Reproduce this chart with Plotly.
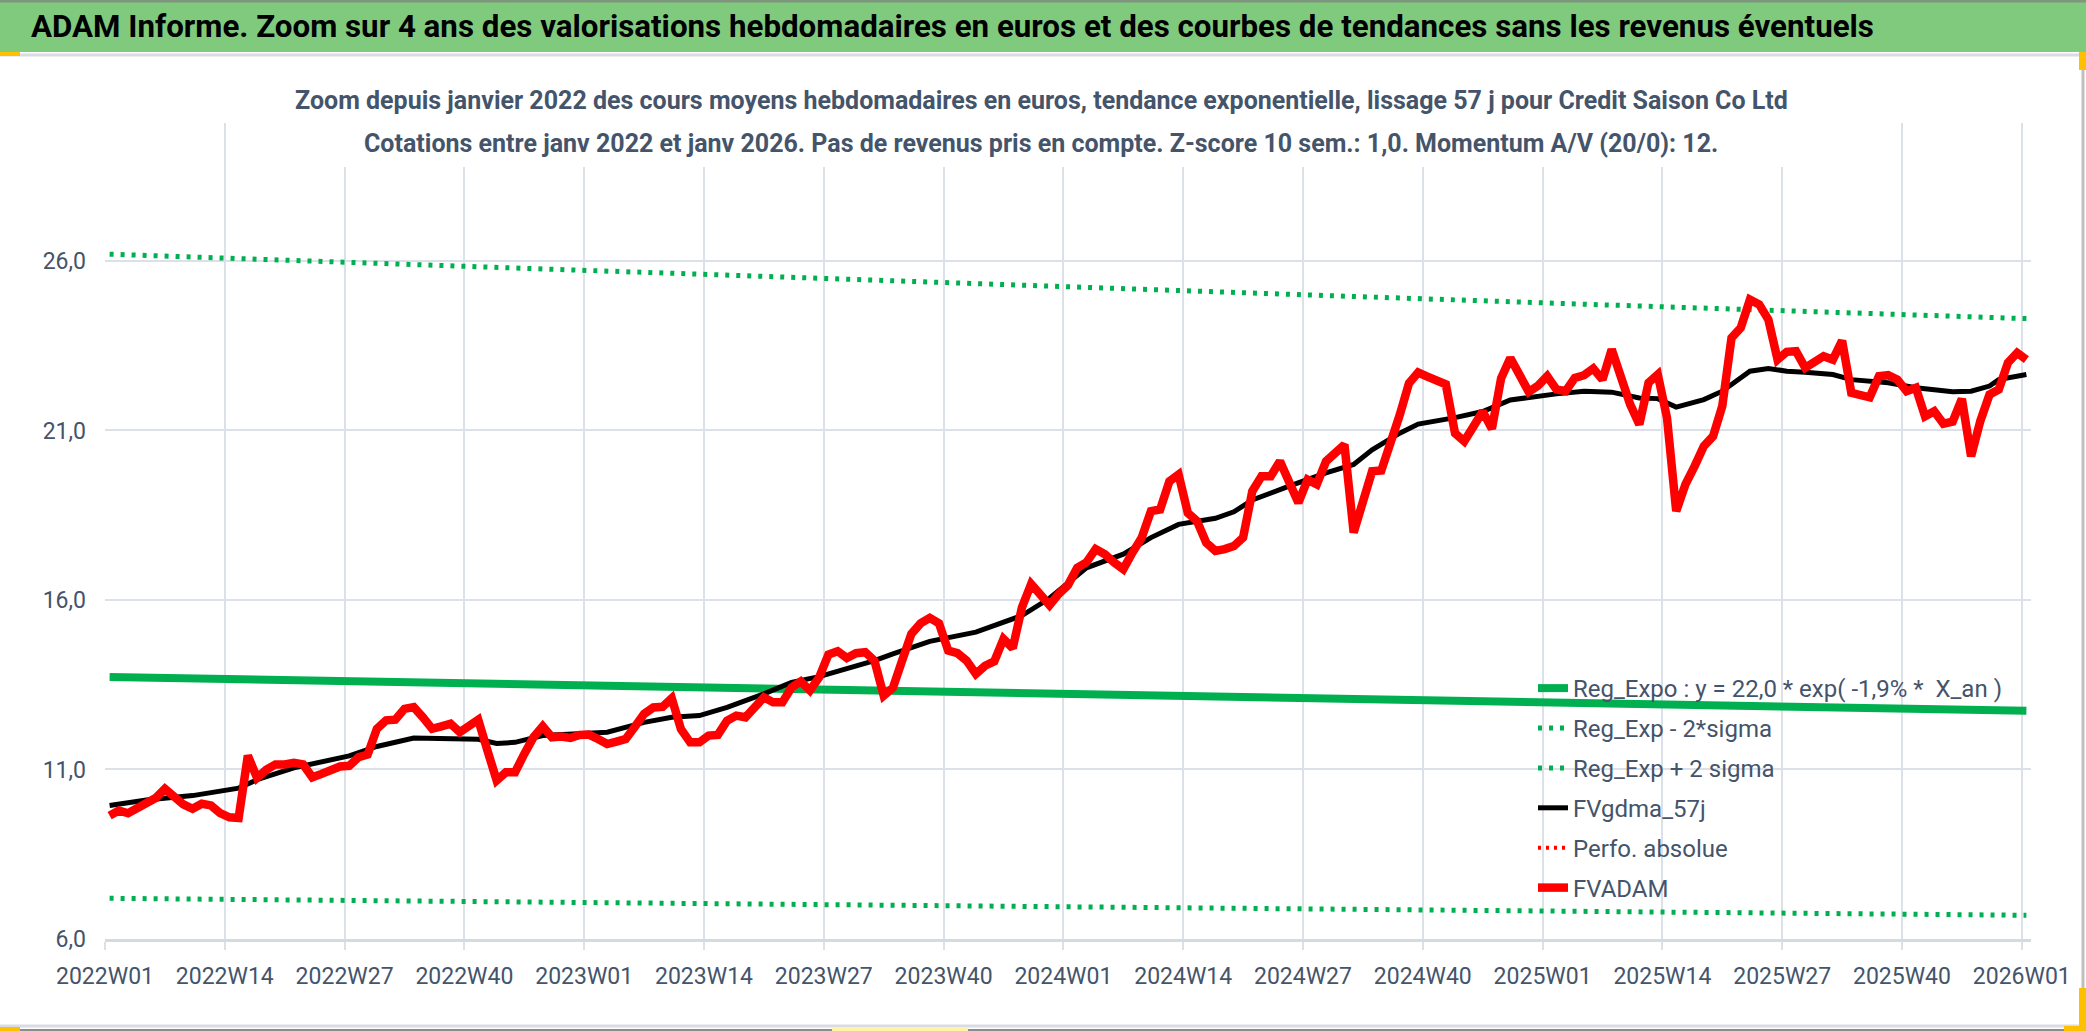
import plotly.graph_objects as go

# ---------------- data ----------------
years = [2022, 2023, 2024, 2025]
weeks = [f"{y}W{w:02d}" for y in years for w in range(1, 53)] + ["2026W01"]
tick_idx = list(range(0, 209, 13))
tick_labels = [weeks[i] for i in tick_idx]

# FVADAM weekly values
red_2022 = [9.64, 9.79, 9.71, 9.87, 9.96, 10.16, 10.43, 10.20, 9.97, 9.84, 9.99, 9.94, 9.71,
            9.59, 9.57, 11.41, 10.75, 10.99, 11.15, 11.15, 11.20, 11.15, 10.77, 10.87, 10.99, 11.09,
            11.11, 11.36, 11.44, 12.20, 12.45, 12.47, 12.79, 12.84, 12.54, 12.20, 12.27, 12.35, 12.10,
            12.25, 12.47, 11.56, 10.68, 10.92, 10.92, 11.46, 11.95, 12.27, 11.95, 11.97, 11.93, 12.02]
red_2023 = [12.03, 11.90, 11.75, 11.82, 11.90, 12.26, 12.64, 12.83, 12.85, 13.10, 12.19, 11.80, 11.80,
            12.00, 12.02, 12.44, 12.59, 12.54, 12.88, 13.13, 12.98, 12.98, 13.42, 13.60, 13.33, 13.72,
            14.39, 14.49, 14.29, 14.43, 14.46, 14.21, 13.18, 13.41, 14.21, 15.00, 15.31, 15.47, 15.31,
            14.51, 14.43, 14.21, 13.82, 14.06, 14.19, 14.85, 14.58, 15.78, 16.47, 16.13, 15.85, 16.18]
red_2024 = [16.44, 16.95, 17.11, 17.50, 17.35, 17.11, 16.91, 17.40, 17.84, 18.62, 18.67, 19.50, 19.70,
            18.57, 18.33, 17.69, 17.45, 17.50, 17.59, 17.84, 19.21, 19.65, 19.65, 20.09, 19.45, 18.87,
            19.55, 19.41, 20.09, 20.38, 20.58, 17.99, 18.92, 19.80, 19.82, 20.58, 21.46, 22.39, 22.71,
            22.59, 22.49, 22.36, 20.92, 20.68, 21.12, 21.56, 21.05, 22.54, 23.14, 22.68, 22.14, 22.32]
red_2025 = [22.60, 22.21, 22.16, 22.55, 22.63, 22.83, 22.50, 23.39, 22.60, 21.77, 21.18, 22.41, 22.65,
            21.37, 18.62, 19.41, 19.95, 20.54, 20.83, 21.72, 23.73, 24.03, 24.86, 24.72, 24.27, 23.09,
            23.32, 23.34, 22.85, 23.05, 23.19, 23.09, 23.65, 22.11, 22.04, 21.98, 22.60, 22.63, 22.50,
            22.16, 22.26, 21.42, 21.57, 21.20, 21.26, 21.93, 20.24, 21.28, 22.06, 22.21, 23.00, 23.29,
            23.09]

# FVgdma_57j (smooth line, read at these week indexes)
black_idx = [0, 4, 9, 14, 16, 20, 26, 29, 33, 38, 40, 42, 44, 47, 52, 54, 58, 61, 64, 67, 71, 74, 77,
             80, 83, 85, 89, 94, 96, 99, 102, 104, 106, 110, 113, 116, 118, 120, 122, 124, 128, 132,
             135, 137, 140, 142, 146, 149, 152, 154, 157, 160, 163, 166, 168, 170, 173, 175, 178, 180,
             182, 184, 187, 189, 193, 196, 200, 202, 204, 205, 208]
black_vals = [9.94, 10.10, 10.23, 10.45, 10.70, 11.05, 11.40, 11.68, 11.93, 11.92, 11.89, 11.77, 11.80,
              12.00, 12.08, 12.10, 12.39, 12.54, 12.59, 12.83, 13.23, 13.57, 13.74, 13.96, 14.21, 14.41,
              14.78, 15.05, 15.24, 15.54, 16.05, 16.50, 16.95, 17.35, 17.84, 18.23, 18.31, 18.41, 18.60,
              18.95, 19.36, 19.75, 20.00, 20.43, 20.92, 21.19, 21.38, 21.56, 21.90, 21.98, 22.08, 22.16,
              22.13, 21.96, 21.94, 21.69, 21.91, 22.16, 22.75, 22.83, 22.75, 22.72, 22.65, 22.50, 22.41,
              22.26, 22.14, 22.16, 22.31, 22.50, 22.65]

# Exponential regression and +/- 2 sigma bands (read at each year start)
trend_idx = [0, 52, 104, 156, 208]
reg_vals = [13.73, 13.47, 13.22, 12.97, 12.73]
upper_vals = [26.20, 25.71, 25.23, 24.76, 24.30]
lower_vals = [7.20, 7.07, 6.94, 6.82, 6.70]

y_ticks = [6, 11, 16, 21, 26]
y_tick_labels = ["6,0", "11,0", "16,0", "21,0", "26,0"]

header = ("ADAM Informe. Zoom sur 4 ans des valorisations hebdomadaires en euros et des courbes "
          "de tendances sans les revenus éventuels")
sub1 = ("Zoom depuis janvier 2022 des cours moyens hebdomadaires en euros, tendance exponentielle, "
        "lissage 57 j pour Credit Saison Co Ltd")
sub2 = ("Cotations entre janv 2022 et janv 2026. Pas de revenus pris en compte. Z-score 10 sem.: 1,0. "
        "Momentum A/V (20/0): 12.")

# ---------------- layout geometry ----------------
W, H = 2086, 1031
PL, PR, PT, PB = 105, 2031, 123, 939
FONT = "Roboto, Liberation Sans, sans-serif"
TXT = "#44546A"
GRID = "#DCE0E8"


def px2x(px):
    return (px - PL) / (PR - PL)


def px2y(py):
    return (PB - py) / (PB - PT)


red_vals = red_2022 + red_2023 + red_2024 + red_2025
xpos = [i + 0.5 for i in range(len(weeks))]

fig = go.Figure()
fig.add_trace(go.Scatter(x=[i + 0.5 for i in trend_idx], y=reg_vals, mode="lines",
                         name="Reg_Expo : y = 22,0 * exp( -1,9% *  X_an )", legendgroup="g1",
                         line=dict(color="#00B050", width=8)))
fig.add_trace(go.Scatter(x=[i + 0.5 for i in trend_idx], y=lower_vals, mode="lines",
                         name="Reg_Exp - 2*sigma", legendgroup="g2",
                         line=dict(color="#00B050", width=5, dash="4px,7px")))
fig.add_trace(go.Scatter(x=[i + 0.5 for i in trend_idx], y=upper_vals, mode="lines",
                         name="Reg_Exp + 2 sigma", legendgroup="g3",
                         line=dict(color="#00B050", width=5, dash="4px,7px")))
fig.add_trace(go.Scatter(x=[i + 0.5 for i in black_idx], y=black_vals, mode="lines",
                         name="FVgdma_57j", legendgroup="g4", line=dict(color="#000000", width=5)))
fig.add_trace(go.Scatter(x=[None], y=[None], mode="lines", name="Perfo. absolue", legendgroup="g5",
                         line=dict(color="#FF0000", width=4, dash="3px,5px")))
fig.add_trace(go.Scatter(x=xpos, y=red_vals, mode="lines", name="FVADAM", legendgroup="g6",
                         line=dict(color="#FF0000", width=8.5)))

shapes = [
    # header band
    dict(type="rect", xref="paper", yref="paper", x0=px2x(0), x1=px2x(W), y0=px2y(52), y1=px2y(0),
         fillcolor="rgb(128,202,126)", line=dict(width=0), layer="above"),
    dict(type="line", xref="paper", yref="paper", x0=px2x(0), x1=px2x(W), y0=px2y(1), y1=px2y(1),
         line=dict(color="#7E957E", width=3), layer="above"),
    # chart frame
    dict(type="line", xref="paper", yref="paper", x0=px2x(0), x1=px2x(W), y0=px2y(55), y1=px2y(55),
         line=dict(color="#D9DCE3", width=3), layer="above"),
    dict(type="line", xref="paper", yref="paper", x0=px2x(0), x1=px2x(W), y0=px2y(1026), y1=px2y(1026),
         line=dict(color="#D9DCE3", width=3), layer="above"),
    dict(type="line", xref="paper", yref="paper", x0=px2x(0), x1=px2x(W), y0=px2y(1030), y1=px2y(1030),
         line=dict(color="#8C8C8C", width=2), layer="above"),
    dict(type="line", xref="paper", yref="paper", x0=px2x(2083), x1=px2x(2083), y0=px2y(55), y1=px2y(1030),
         line=dict(color="#BFBFBF", width=3), layer="above"),
    # white title box
    dict(type="rect", xref="paper", yref="paper", x0=px2x(250), x1=px2x(1836), y0=px2y(167), y1=px2y(70),
         fillcolor="white", line=dict(width=0), layer="above"),
    # selection handles
    dict(type="rect", xref="paper", yref="paper", x0=px2x(0), x1=px2x(20), y0=px2y(56), y1=px2y(52),
         fillcolor="#FFC000", line=dict(width=0), layer="above"),
    dict(type="rect", xref="paper", yref="paper", x0=px2x(2079), x1=px2x(W), y0=px2y(70), y1=px2y(52),
         fillcolor="#FFC000", line=dict(width=0), layer="above"),
    dict(type="rect", xref="paper", yref="paper", x0=px2x(2079), x1=px2x(W), y0=px2y(H), y1=px2y(988),
         fillcolor="#FFC000", line=dict(width=0), layer="above"),
    dict(type="rect", xref="paper", yref="paper", x0=px2x(2064), x1=px2x(W), y0=px2y(H), y1=px2y(1026),
         fillcolor="#FFC000", line=dict(width=0), layer="above"),
    dict(type="rect", xref="paper", yref="paper", x0=px2x(0), x1=px2x(20), y0=px2y(H), y1=px2y(1027),
         fillcolor="#FFC000", line=dict(width=0), layer="above"),
    dict(type="rect", xref="paper", yref="paper", x0=px2x(832), x1=px2x(968), y0=px2y(H), y1=px2y(1027),
         fillcolor="#FFF3A8", line=dict(width=0), layer="above"),
]

annotations = [
    dict(xref="paper", yref="paper", x=px2x(29), y=px2y(27), xanchor="left", yanchor="middle",
         text=header, showarrow=False, font=dict(family=FONT, size=31.3, color="#000000", weight="bold")),
    dict(xref="paper", yref="paper", x=px2x(1041), y=px2y(100), xanchor="center", yanchor="middle",
         text=sub1, showarrow=False, font=dict(family=FONT, size=25, color=TXT, weight="bold")),
    dict(xref="paper", yref="paper", x=px2x(1041), y=px2y(143), xanchor="center", yanchor="middle",
         text=sub2, showarrow=False, font=dict(family=FONT, size=25, color=TXT, weight="bold")),
]

fig.update_layout(
    width=W, height=H, autosize=False,
    margin=dict(l=PL, r=W - PR, t=PT, b=H - PB, pad=0),
    paper_bgcolor="white", plot_bgcolor="white",
    font=dict(family=FONT, color=TXT),
    showlegend=True,
    legend=dict(x=px2x(1533), y=px2y(666), xanchor="left", yanchor="top",
                font=dict(family=FONT, size=24, color=TXT), bgcolor="rgba(0,0,0,0)",
                tracegroupgap=5.7, itemwidth=30),
    shapes=shapes, annotations=annotations,
    xaxis=dict(range=[0, 209], tickmode="array", tickvals=tick_idx, ticktext=tick_labels,
               showgrid=True, gridcolor=GRID, gridwidth=2, zeroline=False,
               ticks="outside", ticklen=8, tickwidth=2, tickcolor=GRID,
               showline=True, linecolor="#D5D9E0", linewidth=3,
               tickfont=dict(family=FONT, size=23, color=TXT), ticklabelstandoff=6),
    yaxis=dict(range=[6, 30.07], tickmode="array", tickvals=y_ticks, ticktext=y_tick_labels,
               showgrid=True, gridcolor=GRID, gridwidth=2, zeroline=False, ticks="",
               tickfont=dict(family=FONT, size=23, color=TXT), ticklabelstandoff=18),
)

fig.write_html("out.html", config={"displayModeBar": False},
               post_script="document.body.style.margin='0';")
